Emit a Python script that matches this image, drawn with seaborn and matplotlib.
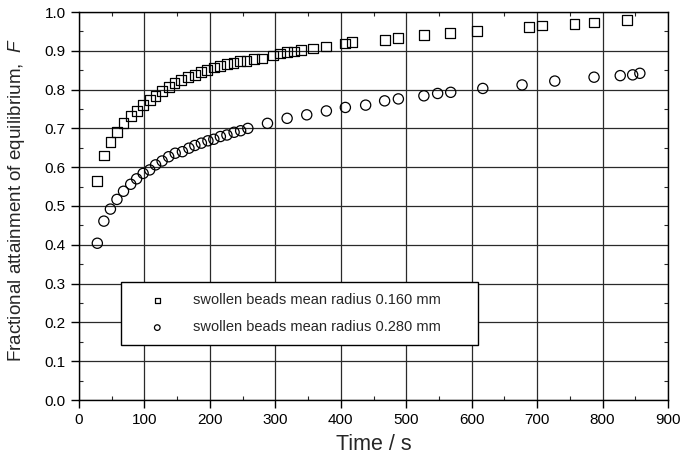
import matplotlib
matplotlib.use('Agg')
import matplotlib.pyplot as plt
import seaborn as sns
from matplotlib.ticker import MultipleLocator

# data
time_160 = [28, 38, 48, 58, 68, 79, 89, 98, 108, 117, 127, 137, 146, 156, 166,
            177, 186, 196, 206, 216, 226, 236, 246, 256, 267, 279, 297, 307, 318,
            328, 339, 358, 377, 407, 417, 467, 487, 527, 567, 608, 687, 707, 757,
            787, 837]
frac_160 = [0.564, 0.630, 0.664, 0.690, 0.713, 0.732, 0.745, 0.760, 0.773, 0.784,
            0.796, 0.806, 0.816, 0.825, 0.832, 0.838, 0.845, 0.851, 0.857, 0.861,
            0.865, 0.869, 0.873, 0.874, 0.878, 0.880, 0.888, 0.893, 0.896, 0.898,
            0.902, 0.906, 0.911, 0.919, 0.922, 0.928, 0.933, 0.941, 0.945, 0.951,
            0.961, 0.965, 0.970, 0.973, 0.979]

time_280 = [28, 38, 48, 58, 68, 79, 88, 98, 108, 117, 127, 137, 147, 158, 168,
            177, 187, 197, 206, 216, 226, 237, 247, 258, 288, 318, 348, 378, 407,
            438, 467, 488, 527, 548, 568, 617, 677, 727, 787, 827, 846, 857]
frac_280 = [0.404, 0.461, 0.492, 0.517, 0.538, 0.556, 0.570, 0.584, 0.593, 0.606,
            0.616, 0.627, 0.636, 0.640, 0.649, 0.656, 0.662, 0.668, 0.672, 0.679,
            0.683, 0.690, 0.694, 0.700, 0.713, 0.726, 0.735, 0.745, 0.754, 0.760,
            0.771, 0.776, 0.784, 0.790, 0.793, 0.803, 0.812, 0.822, 0.832, 0.836,
            0.838, 0.842]

labels = ['swollen beads mean radius 0.160 mm', 'swollen beads mean radius 0.280 mm']

sns.set_style('ticks')
plt.rcParams['font.family'] = ['Liberation Sans', 'DejaVu Sans']
plt.rcParams['mathtext.fontset'] = 'custom'
plt.rcParams['mathtext.rm'] = 'Liberation Sans'
plt.rcParams['mathtext.it'] = 'Liberation Sans:italic'

fig = plt.figure(figsize=(6.82, 4.59), dpi=100)
ax = fig.add_axes([79 / 682, 1 - 400 / 459, 589 / 682, 388 / 459])

ax.grid(True, color='#2a2a2a', linewidth=0.9)
ax.set_axisbelow(True)

sns.scatterplot(x=time_160, y=frac_160, marker='s', s=50, facecolors='none',
                edgecolor='black', linewidth=0.9, label=labels[0], ax=ax, zorder=3)
sns.scatterplot(x=time_280, y=frac_280, marker='o', s=54, facecolors='none',
                edgecolor='black', linewidth=0.9, label=labels[1], ax=ax, zorder=3)

ax.set_xlim(0, 900)
ax.set_ylim(0, 1.0)
ax.xaxis.set_major_locator(MultipleLocator(100))
ax.xaxis.set_minor_locator(MultipleLocator(50))
ax.yaxis.set_major_locator(MultipleLocator(0.1))
ax.yaxis.set_minor_locator(MultipleLocator(0.05))
ax.yaxis.set_major_formatter(matplotlib.ticker.FormatStrFormatter('%.1f'))

ax.tick_params(which='major', direction='out', length=6, width=1, labelsize=11,
               colors='black', top=False, right=False)
ax.tick_params(which='minor', direction='in', length=3, width=0.8,
               top=True, right=True)
for sp in ax.spines.values():
    sp.set_linewidth(1)
    sp.set_color('black')

ax.set_xlabel('Time / s', fontsize=15.5, labelpad=5)
ax.set_ylabel(r'Fractional attainment of equilibrium,  $\mathit{F}$', fontsize=13.6)
ax.yaxis.set_label_coords(-0.088, 0.515)

leg = ax.legend(loc='center', bbox_to_anchor=(0.071, 0.142, 0.606, 0.16),
                mode='expand', borderaxespad=0, fontsize=10.5, frameon=True,
                fancybox=False, markerscale=0.55, handletextpad=0.7,
                borderpad=0.75, labelspacing=0.9, handlelength=3.5)
leg.get_frame().set_edgecolor('black')
leg.get_frame().set_linewidth(1)
leg.get_frame().set_alpha(1)

fig.savefig('out.png', dpi=100)
